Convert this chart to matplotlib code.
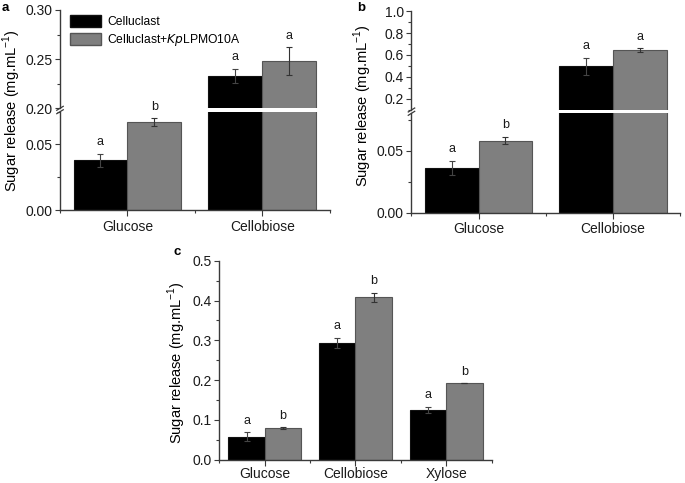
import matplotlib.pyplot as plt
import numpy as np
from matplotlib.patches import Patch
from matplotlib.ticker import MultipleLocator, FixedLocator

plt.rcParams["font.family"] = ["Liberation Sans", "DejaVu Sans"]
plt.rcParams["font.size"] = 10

# ---- data ----
SUGARS_AB = ["Glucose", "Cellobiose"]
SUGARS_C = ["Glucose", "Cellobiose", "Xylose"]

A_CELL = [0.038, 0.233]
A_CELL_ERR = [0.005, 0.007]
A_KP = [0.067, 0.248]
A_KP_ERR = [0.003, 0.014]
A_LET_CELL = ["a", "a"]
A_LET_KP = ["b", "a"]

B_CELL = [0.036, 0.497]
B_CELL_ERR = [0.006, 0.08]
B_KP = [0.058, 0.645]
B_KP_ERR = [0.003, 0.015]
B_LET_CELL = ["a", "a"]
B_LET_KP = ["b", "a"]

C_CELL = [0.058, 0.294, 0.125]
C_CELL_ERR = [0.011, 0.013, 0.008]
C_KP = [0.079, 0.408, 0.192]
C_KP_ERR = [0.002, 0.011, 0.0]
C_LET_CELL = ["a", "a", "a"]
C_LET_KP = ["b", "b", "b"]

BLACK = "#000000"
GRAY = "#7f7f7f"
AXC = "#3a3a3a"
W = 0.4
FS = 10
YFS = 10.5
YLABEL = "Sugar release (mg.mL$^{\\mathregular{-1}}$)"

fig = plt.figure(figsize=(6.85, 4.83), dpi=100)


def style(ax, bottom=True):
    for s in ("top", "right"):
        ax.spines[s].set_visible(False)
    ax.spines["left"].set_color(AXC)
    ax.spines["bottom"].set_color(AXC)
    ax.spines["left"].set_linewidth(1.0)
    ax.spines["bottom"].set_linewidth(1.0)
    ax.tick_params(which="major", direction="out", length=3.5, width=0.8, color=AXC, pad=2,
                   labelcolor="#1a1a1a")
    ax.tick_params(which="minor", direction="out", length=2, width=0.8, color=AXC)
    if not bottom:
        ax.spines["bottom"].set_visible(False)
        ax.tick_params(axis="x", which="both", bottom=False, labelbottom=False)


def draw_bars(ax, n, cell, cell_err, kp, kp_err, lc, lk, show=None):
    x = np.arange(n)
    ax.bar(x - W / 2, cell, W, color=BLACK, edgecolor="#111111", linewidth=0.8, zorder=2)
    ax.bar(x + W / 2, kp, W, color=GRAY, edgecolor="#555555", linewidth=0.8, zorder=2)
    ax.errorbar(x - W / 2, cell, yerr=cell_err, fmt="none", ecolor="#444444",
                elinewidth=0.8, capsize=2, capthick=0.8, zorder=3)
    ax.errorbar(x + W / 2, kp, yerr=kp_err, fmt="none", ecolor="#333333",
                elinewidth=0.8, capsize=2, capthick=0.8, zorder=3)
    for i in range(n):
        for xi, v, e, t in ((x[i] - W / 2, cell[i], cell_err[i], lc[i]),
                            (x[i] + W / 2, kp[i], kp_err[i], lk[i])):
            if show is None or show(v):
                ax.annotate(t, (xi, v + e), xytext=(0, 4), textcoords="offset points",
                            ha="center", va="bottom", fontsize=9, color="#1a1a1a")


def xaxis(ax, labels, pad=3):
    n = len(labels)
    ax.set_xlim(-0.5, n - 0.5)
    ax.set_xticks(np.arange(n))
    ax.set_xticklabels(labels, fontsize=FS)
    ax.xaxis.set_minor_locator(FixedLocator(np.arange(n + 1) - 0.5))
    ax.tick_params(axis="x", which="major", length=4, pad=pad)


def break_marks(ax_up, ax_lo):
    for ax, yv in ((ax_up, 0.0), (ax_lo, 1.0)):
        ax.plot([-0.012, 0.012], [yv - 0.02, yv + 0.02], transform=ax.transAxes,
                color=AXC, lw=0.9, clip_on=False)


def broken_panel(rect_up, rect_lo, ylim_up, ylim_lo, up_ticks, up_minor, lo_ticks, lo_minor,
                 cell, cell_err, kp, kp_err, lc, lk, fmt_up, fmt_lo):
    ax_up = fig.add_axes(rect_up)
    ax_lo = fig.add_axes(rect_lo)
    draw_bars(ax_up, 2, cell, cell_err, kp, kp_err, lc, lk, show=lambda v: v > ylim_up[0])
    draw_bars(ax_lo, 2, cell, cell_err, kp, kp_err, lc, lk, show=lambda v: v < ylim_lo[1])
    ax_up.set_xlim(-0.5, 1.5)
    ax_up.set_ylim(*ylim_up)
    ax_lo.set_ylim(*ylim_lo)
    style(ax_up, bottom=False)
    style(ax_lo)
    xaxis(ax_lo, SUGARS_AB)
    ax_up.set_yticks(up_ticks)
    ax_up.yaxis.set_minor_locator(MultipleLocator(up_minor))
    ax_lo.set_yticks(lo_ticks)
    ax_lo.yaxis.set_minor_locator(MultipleLocator(lo_minor))
    ax_up.yaxis.set_major_formatter(fmt_up)
    ax_lo.yaxis.set_major_formatter(fmt_lo)
    for ax in (ax_up, ax_lo):
        ax.tick_params(axis="y", labelsize=FS)
    break_marks(ax_up, ax_lo)
    return ax_up, ax_lo


# ---- panel a ----
a_up, a_lo = broken_panel([0.0876, 0.7758, 0.394, 0.2035], [0.0876, 0.5652, 0.394, 0.2035],
                          (0.20, 0.30), (0.0, 0.075), [0.20, 0.25, 0.30], 0.025, [0.0, 0.05], 0.025,
                          A_CELL, A_CELL_ERR, A_KP, A_KP_ERR, A_LET_CELL, A_LET_KP,
                          "{x:.2f}", "{x:.2f}")
fig.text(0.017, 0.772, YLABEL, rotation=90, ha="center", va="center", fontsize=YFS)
fig.text(0.003, 0.995, "a", fontweight="bold", ha="left", va="top", fontsize=9.5)
a_up.legend(handles=[Patch(facecolor=BLACK, edgecolor="#111111"),
                     Patch(facecolor=GRAY, edgecolor="#555555")],
            labels=["Celluclast", "Celluclast+$\\it{Kp}$LPMO10A"],
            loc="upper left", bbox_to_anchor=(0.01, 1.02), frameon=False,
            fontsize=8.7, handlelength=2.6, handleheight=1.1, handletextpad=0.5,
            labelspacing=0.3, borderaxespad=0.2)

# ---- panel b ----
b_up, b_lo = broken_panel([0.6007, 0.7723, 0.392, 0.2049], [0.6007, 0.5596, 0.392, 0.2058],
                          (0.1, 1.0), (0.0, 0.08), [0.2, 0.4, 0.6, 0.8, 1.0], 0.1, [0.0, 0.05], 0.025,
                          B_CELL, B_CELL_ERR, B_KP, B_KP_ERR, B_LET_CELL, B_LET_KP,
                          "{x:.1f}", "{x:.2f}")
fig.text(0.530, 0.782, YLABEL, rotation=90, ha="center", va="center", fontsize=YFS)
fig.text(0.522, 0.995, "b", fontweight="bold", ha="left", va="top", fontsize=9.5)

# ---- panel c ----
ax_c = fig.add_axes([0.3201, 0.0485, 0.3977, 0.4115])
draw_bars(ax_c, 3, C_CELL, C_CELL_ERR, C_KP, C_KP_ERR, C_LET_CELL, C_LET_KP)
ax_c.set_ylim(0, 0.5)
style(ax_c)
xaxis(ax_c, SUGARS_C, pad=1.5)
ax_c.yaxis.set_major_locator(MultipleLocator(0.1))
ax_c.yaxis.set_minor_locator(MultipleLocator(0.05))
ax_c.yaxis.set_major_formatter("{x:.1f}")
ax_c.tick_params(axis="y", labelsize=FS)
fig.text(0.258, 0.25, YLABEL, rotation=90, ha="center", va="center", fontsize=YFS)
fig.text(0.253, 0.49, "c", fontweight="bold", ha="left", va="top", fontsize=9.5)

fig.savefig("out.png", dpi=100)
